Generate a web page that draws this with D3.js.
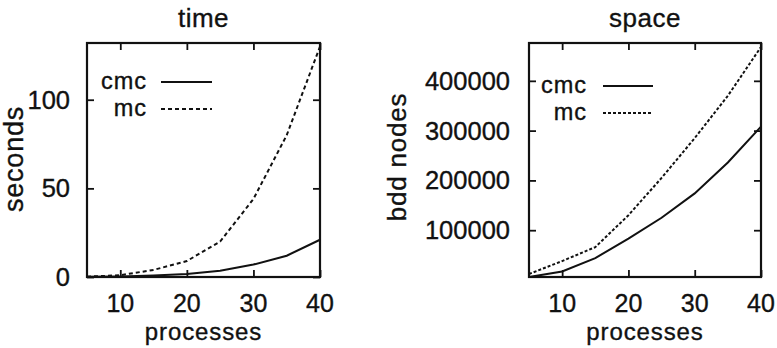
<!DOCTYPE html>
<html>
<head>
<meta charset="utf-8">
<script src="https://cdn.jsdelivr.net/npm/d3@7"></script>
<style>
  html, body { margin: 0; padding: 0; background: #fff; }
  svg text { font-family: 'Liberation Sans', Arial, sans-serif; fill: #111; stroke: #111; stroke-width: 0.35px; }
</style>
</head>
<body>
<div id="chart"></div>
<script>
// data
const processes = [5, 10, 15, 20, 25, 30, 35, 40];
const timeCmc = [0.1, 0.3, 0.8, 1.7, 3.5, 7, 12, 21];
const timeMc = [0.2, 1, 4, 9, 20, 44, 80, 130];
const spaceCmc = [6000, 17000, 44000, 83000, 125000, 174000, 236000, 308000];
const spaceMc = [12000, 38000, 66000, 130000, 205000, 285000, 370000, 468000];
const xTicks = [10, 20, 30, 40];
const timeYTicks = [0, 50, 100];
const spaceYTicks = [100000, 200000, 300000, 400000];
const seriesNames = ['cmc', 'mc'];

const width = 777, height = 348;
const ink = '#111';

const svg = d3.select('#chart').append('svg')
  .attr('width', width)
  .attr('height', height);

svg.append('rect').attr('width', width).attr('height', height).attr('fill', '#fff');

const panels = [
  {
    title: 'time', ylabel: 'seconds',
    left: 87, right: 320, top: 43, bottom: 277,
    yDomain: [0, 132], yTicks: timeYTicks,
    series: [timeCmc, timeMc], dash: '4,3',
    ylabelX: 23, ylabelY: 159, ylabelSize: 27, yTickX: 70,
    legendY: 82, legendTextX: 147, legendLineX: [161, 212]
  },
  {
    title: 'space', ylabel: 'bdd nodes',
    left: 529, right: 761, top: 43, bottom: 277,
    yDomain: [6000, 476000], yTicks: spaceYTicks,
    series: [spaceCmc, spaceMc], dash: '3,2',
    ylabelX: 406, ylabelY: 157, ylabelSize: 26, yTickX: 510,
    legendY: 86, legendTextX: 587, legendLineX: [603, 653]
  }
];

panels.forEach(p => {
  const x = d3.scaleLinear().domain([5, 40]).range([p.left, p.right]);
  const y = d3.scaleLinear().domain(p.yDomain).range([p.bottom, p.top]);
  const g = svg.append('g');

  // inward ticks on all four sides
  const tick = 7;
  g.append('g').attr('transform', `translate(0,${p.bottom})`)
    .call(d3.axisBottom(x).tickValues(xTicks).tickSize(-tick).tickFormat(''));
  g.append('g').attr('transform', `translate(0,${p.top})`)
    .call(d3.axisTop(x).tickValues(xTicks).tickSize(-tick).tickFormat(''));
  g.append('g').attr('transform', `translate(${p.left},0)`)
    .call(d3.axisLeft(y).tickValues(p.yTicks).tickSize(-tick).tickFormat(''));
  g.append('g').attr('transform', `translate(${p.right},0)`)
    .call(d3.axisRight(y).tickValues(p.yTicks).tickSize(-tick).tickFormat(''));
  g.selectAll('.domain').remove();
  g.selectAll('.tick line').attr('stroke', ink).attr('stroke-width', 1.8);

  // frame
  g.append('rect')
    .attr('x', p.left).attr('y', p.top)
    .attr('width', p.right - p.left).attr('height', p.bottom - p.top)
    .attr('fill', 'none').attr('stroke', ink).attr('stroke-width', 2.2);

  // tick labels
  g.selectAll('.xl').data(xTicks).enter().append('text')
    .attr('x', d => x(d)).attr('y', 312)
    .attr('text-anchor', 'middle')
    .style('font-size', '25px')
    .text(d => d);
  g.selectAll('.yl').data(p.yTicks).enter().append('text')
    .attr('x', p.yTickX).attr('y', d => y(d) + 9)
    .attr('text-anchor', 'end')
    .style('font-size', '25.5px')
    .text(d => d);

  // titles
  g.append('text')
    .attr('x', (p.left + p.right) / 2).attr('y', 27)
    .attr('text-anchor', 'middle')
    .style('font-size', '26px')
    .style('letter-spacing', '0.5px')
    .text(p.title);
  g.append('text')
    .attr('x', (p.left + p.right) / 2).attr('y', 340)
    .attr('text-anchor', 'middle')
    .style('font-size', '24px')
    .style('letter-spacing', '0.9px')
    .text('processes');
  g.append('text')
    .attr('transform', `translate(${p.ylabelX},${p.ylabelY}) rotate(-90)`)
    .attr('text-anchor', 'middle')
    .style('font-size', p.ylabelSize + 'px')
    .style('letter-spacing', '0.8px')
    .text(p.ylabel);

  // curves
  const line = d3.line().x((d, i) => x(processes[i])).y(d => y(d));
  p.series.forEach((s, k) => {
    g.append('path')
      .datum(s)
      .attr('d', line)
      .attr('fill', 'none')
      .attr('stroke', ink)
      .attr('stroke-width', 2)
      .attr('stroke-dasharray', k === 1 ? p.dash : null);
  });

  // legend
  seriesNames.forEach((name, k) => {
    const ly = p.legendY + k * 27;
    g.append('text')
      .attr('x', p.legendTextX).attr('y', ly + 7)
      .attr('text-anchor', 'end')
      .style('font-size', '23.5px')
      .style('letter-spacing', '1px')
      .text(name);
    g.append('line')
      .attr('x1', p.legendLineX[0]).attr('x2', p.legendLineX[1])
      .attr('y1', ly).attr('y2', ly)
      .attr('stroke', ink).attr('stroke-width', 2)
      .attr('stroke-dasharray', k === 1 ? p.dash : null);
  });
});
</script>
</body>
</html>
